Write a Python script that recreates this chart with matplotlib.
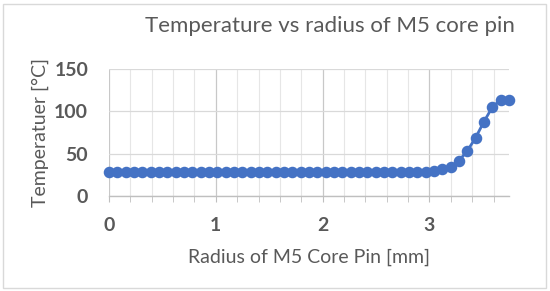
import matplotlib.pyplot as plt
from matplotlib.ticker import MultipleLocator
from matplotlib.patches import Rectangle

plt.rcParams['font.family'] = ['Lato', 'DejaVu Sans']

# data
radius = [0.000, 0.078, 0.156, 0.234, 0.312, 0.390, 0.468, 0.546, 0.624, 0.702,
          0.780, 0.858, 0.936, 1.014, 1.092, 1.170, 1.248, 1.326, 1.404, 1.482,
          1.560, 1.638, 1.716, 1.794, 1.872, 1.950, 2.028, 2.106, 2.184, 2.262,
          2.340, 2.418, 2.496, 2.574, 2.652, 2.730, 2.808, 2.886, 2.964, 3.042,
          3.120, 3.198, 3.276, 3.354, 3.432, 3.510, 3.588, 3.666, 3.744]
temperature = [28] * 39 + [29.9, 31.5, 34.2, 41.7, 53.1, 68.8, 87.7, 104.7, 113.7, 113.7]

title = 'Temperature vs radius of M5 core pin'
xlabel = 'Radius of M5 Core Pin [mm]'
ylabel = 'Temperatuer [°C]'

blue = '#4472C4'
grey = '#595959'

fig = plt.figure(figsize=(5.5, 2.91), dpi=100)
fig.patch.set_facecolor('white')
# chart border
fig.patches.append(Rectangle((3 / 550, 3 / 291), 543 / 550, 284 / 291, transform=fig.transFigure,
                             fill=False, edgecolor='#d9d9d9', linewidth=1))

ax = fig.add_axes([109 / 550, 95 / 291, 400 / 550, 127 / 291])
ax.plot(radius, temperature, color=blue, linewidth=2, marker='o', markersize=7.3,
        clip_on=False, zorder=3)

ax.set_xlim(0, 3.745)
ax.set_ylim(0, 150)
ax.xaxis.set_major_locator(MultipleLocator(1))
ax.xaxis.set_minor_locator(MultipleLocator(0.2))
ax.yaxis.set_major_locator(MultipleLocator(50))

ax.grid(which='major', axis='x', color='#c8c8c8', linewidth=0.9)
ax.grid(which='minor', axis='x', color='#e6e6e6', linewidth=0.8)
ax.grid(which='major', axis='y', color='#d9d9d9', linewidth=0.9)
ax.set_axisbelow(True)

for s in ['top', 'right', 'left']:
    ax.spines[s].set_visible(False)
ax.spines['bottom'].set_color('#bfbfbf')
ax.spines['bottom'].set_linewidth(1)

ax.tick_params(axis='x', which='both', direction='out', length=4, color='#bfbfbf',
               labelsize=14, labelcolor=grey, pad=11)
ax.tick_params(axis='y', which='both', length=0, labelsize=14, labelcolor=grey, pad=15)
for lab in ax.get_xticklabels() + ax.get_yticklabels():
    lab.set_fontweight('bold')

ax.set_xlabel(xlabel, fontsize=14, color=grey, labelpad=11)
ax.set_ylabel(ylabel, fontsize=14, color=grey, labelpad=4)
fig.text(0.60, 0.912, title, fontsize=16, color=grey, ha='center', va='center')

fig.savefig('out.png', dpi=100)
